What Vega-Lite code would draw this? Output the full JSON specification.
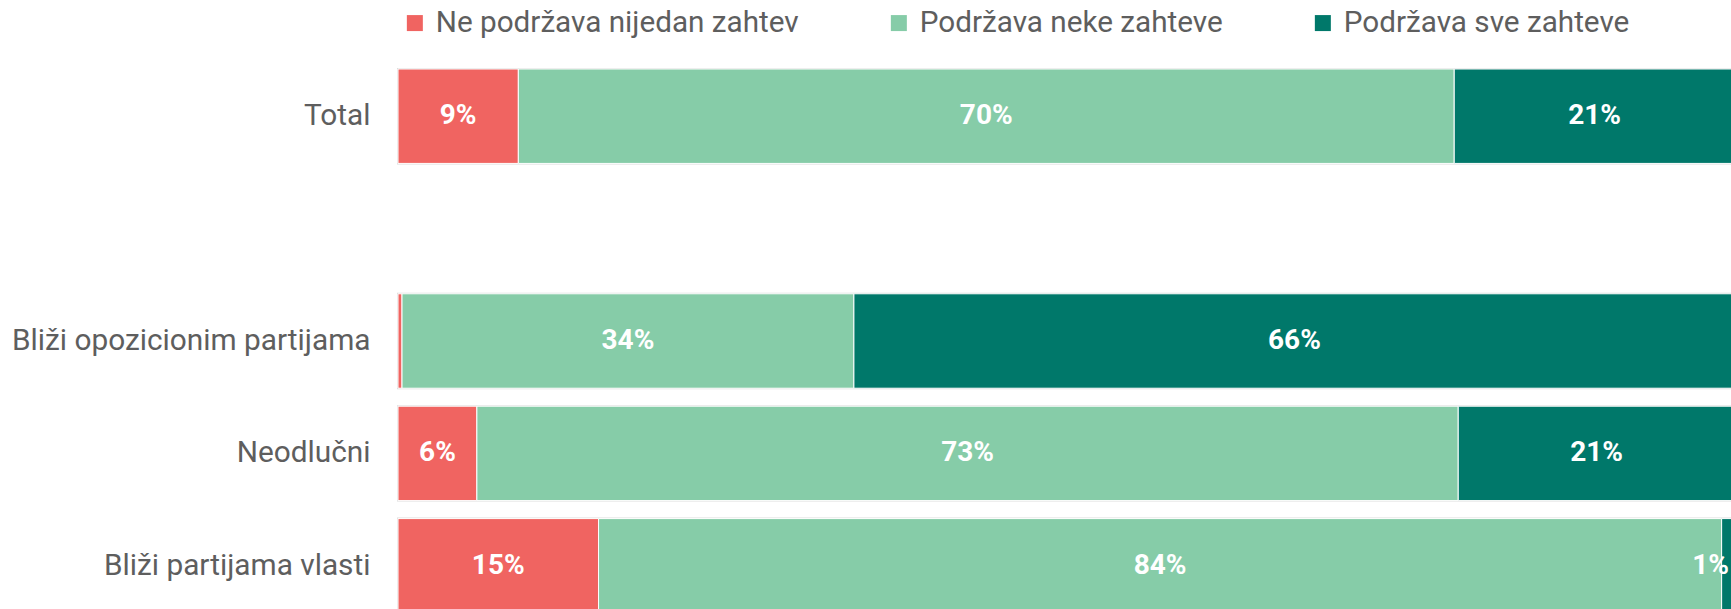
{
  "$schema": "https://vega.github.io/schema/vega-lite/v6.json",
  "width": 1337,
  "height": 562,
  "autosize": {"type": "none"},
  "padding": {"left": 398, "top": 60, "right": 0, "bottom": 0},
  "background": "white",
  "config": {
    "view": {"stroke": null},
    "font": "Roboto"
  },
  "data": {
    "values": [
      {"row": "Total", "cat": "Ne podržava nijedan zahtev", "value": 0.09},
      {"row": "Total", "cat": "Podržava neke zahteve", "value": 0.70},
      {"row": "Total", "cat": "Podržava sve zahteve", "value": 0.21},
      {"row": "Bliži opozicionim partijama", "cat": "Ne podržava nijedan zahtev", "value": 0.003},
      {"row": "Bliži opozicionim partijama", "cat": "Podržava neke zahteve", "value": 0.338},
      {"row": "Bliži opozicionim partijama", "cat": "Podržava sve zahteve", "value": 0.659},
      {"row": "Neodlučni", "cat": "Ne podržava nijedan zahtev", "value": 0.059},
      {"row": "Neodlučni", "cat": "Podržava neke zahteve", "value": 0.734},
      {"row": "Neodlučni", "cat": "Podržava sve zahteve", "value": 0.207},
      {"row": "Bliži partijama vlasti", "cat": "Ne podržava nijedan zahtev", "value": 0.15},
      {"row": "Bliži partijama vlasti", "cat": "Podržava neke zahteve", "value": 0.84},
      {"row": "Bliži partijama vlasti", "cat": "Podržava sve zahteve", "value": 0.01}
    ]
  },
  "encoding": {
    "y": {
      "field": "row",
      "type": "nominal",
      "scale": {
        "domain": ["Total", " ", "Bliži opozicionim partijama", "Neodlučni", "Bliži partijama vlasti"],
        "paddingInner": 0.16,
        "paddingOuter": 0.08
      },
      "axis": {
        "title": null,
        "ticks": false,
        "domain": false,
        "labelPadding": 28,
        "labelFontSize": 29.8,
        "labelColor": "#5e5e5e",
        "labelFont": "Roboto",
        "labelLimit": 500
      }
    }
  },
  "layer": [
    {
      "transform": [{"aggregate": [{"op": "sum", "field": "value", "as": "total"}], "groupby": ["row"]}],
      "mark": {"type": "bar", "fillOpacity": 0, "fill": "white", "stroke": "#dcdcdc", "strokeWidth": 2},
      "encoding": {
        "x": {"field": "total", "type": "quantitative", "scale": {"domain": [0, 1], "nice": false}, "axis": null}
      }
    },
    {
      "transform": [
        {"stack": "value", "groupby": ["row"], "sort": [{"field": "cat", "order": "ascending"}], "as": ["x0", "x1"]}
      ],
      "mark": {"type": "bar", "stroke": "#ffffff", "strokeWidth": 1},
      "encoding": {
        "x": {"field": "x0", "type": "quantitative"},
        "x2": {"field": "x1"},
        "color": {
          "field": "cat",
          "type": "nominal",
          "scale": {
            "domain": ["Ne podržava nijedan zahtev", "Podržava neke zahteve", "Podržava sve zahteve"],
            "range": ["#f06461", "#86cca8", "#00786a"]
          },
          "legend": {
            "title": null,
            "orient": "none",
            "direction": "horizontal",
            "legendX": 2,
            "legendY": -52,
            "symbolType": "square",
            "symbolSize": 256,
            "symbolStrokeWidth": 0,
            "labelFontSize": 29.7,
            "labelColor": "#5e5e5e",
            "labelFont": "Roboto",
            "labelOffset": 6,
            "labelLimit": 600,
            "columnPadding": 85
          }
        }
      }
    },
    {
      "transform": [
        {"stack": "value", "groupby": ["row"], "sort": [{"field": "cat", "order": "ascending"}], "as": ["x0", "x1"]},
        {"calculate": "(datum.x0 + datum.x1) / 2", "as": "mid"},
        {"filter": "datum.value >= 0.03"}
      ],
      "mark": {"type": "text", "color": "white", "fontWeight": "bold", "fontSize": 28, "font": "Roboto", "baseline": "middle"},
      "encoding": {
        "x": {"field": "mid", "type": "quantitative"},
        "text": {"field": "value", "type": "quantitative", "format": ".0%"}
      }
    },
    {
      "transform": [
        {"stack": "value", "groupby": ["row"], "sort": [{"field": "cat", "order": "ascending"}], "as": ["x0", "x1"]},
        {"filter": "datum.value >= 0.005 && datum.value < 0.03"}
      ],
      "mark": {"type": "text", "color": "white", "fontWeight": "bold", "fontSize": 28, "font": "Roboto", "baseline": "middle", "align": "right", "dx": -6},
      "encoding": {
        "x": {"field": "x1", "type": "quantitative"},
        "text": {"field": "value", "type": "quantitative", "format": ".0%"}
      }
    }
  ]
}
